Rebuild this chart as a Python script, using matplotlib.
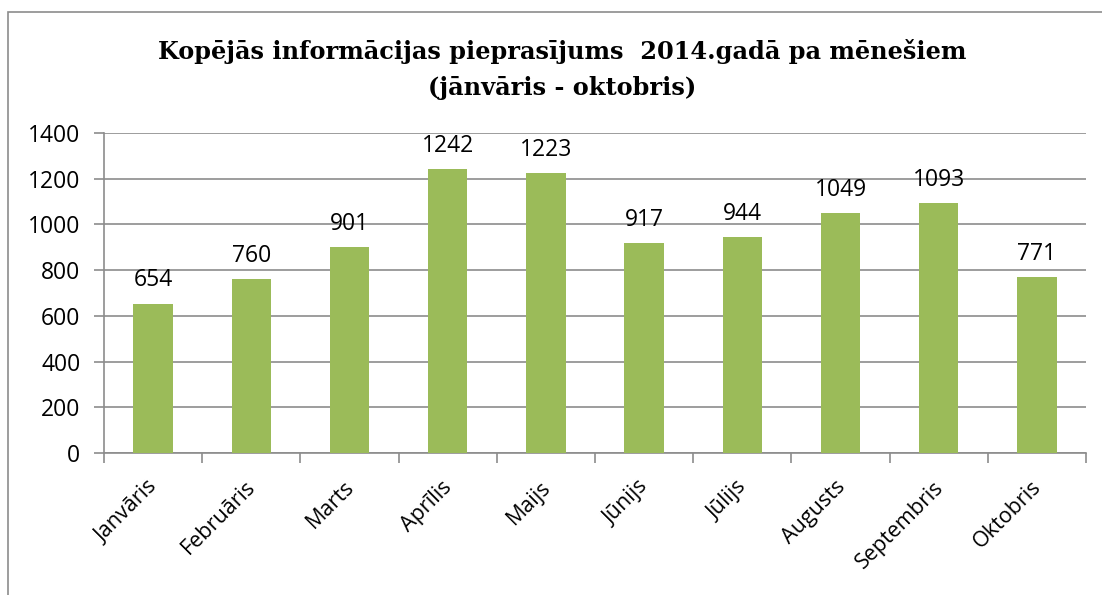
import matplotlib.pyplot as plt
from matplotlib.patches import Rectangle
from matplotlib.transforms import ScaledTranslation

months = ["Janvāris", "Februāris", "Marts", "Aprīlis", "Maijs",
          "Jūnijs", "Jūlijs", "Augusts", "Septembris", "Oktobris"]
requests = [654, 760, 901, 1242, 1223, 917, 944, 1049, 1093, 771]
yticks = [0, 200, 400, 600, 800, 1000, 1200, 1400]

bar_color = "#9BBB59"
grid_color = "#8c8c8c"
label_font = "Open Sans"

fig = plt.figure(figsize=(11.02, 5.95), dpi=100)
ax = fig.add_axes([104 / 1102, 1 - 453 / 595, (1086 - 104) / 1102, 320 / 595])

# outer chart frame (right and bottom are cropped in the original)
fig.patches.append(Rectangle((8 / 1102, -0.1), 1.2, 1 - 12 / 595 + 0.1,
                             transform=fig.transFigure, fill=False,
                             edgecolor="#8c8c8c", linewidth=1.2))

x = list(range(len(months)))
bars = ax.bar(x, requests, width=0.4, color=bar_color, zorder=3)

for xi, v in zip(x, requests):
    ax.annotate(str(v), (xi, v), xytext=(0, 8), textcoords="offset points",
                ha="center", va="bottom", fontsize=16.5, family=label_font)

ax.set_xlim(-0.5, len(months) - 0.5)
ax.set_ylim(0, 1400)
ax.set_yticks(yticks)
ax.set_yticklabels([str(t) for t in yticks], fontsize=16.5, family=label_font)
ax.yaxis.grid(True, color=grid_color, linewidth=1.2, zorder=0)

ax.set_xticks(x)
ax.set_xticklabels(months, rotation=45, ha="right", rotation_mode="anchor",
                   fontsize=15.5, family=label_font)
ax.tick_params(axis="x", length=0, pad=17)
shift = ScaledTranslation(-6 / 100, 0, fig.dpi_scale_trans)
for lbl in ax.get_xticklabels():
    lbl.set_transform(lbl.get_transform() + shift)
ax.set_xticks([i - 0.5 for i in range(len(months) + 1)], minor=True)
ax.tick_params(axis="x", which="minor", length=7, color=grid_color, width=1.2)
ax.tick_params(axis="y", length=7, color=grid_color, width=1.2, pad=10)

for side in ["top", "right"]:
    ax.spines[side].set_visible(False)
for side in ["left", "bottom"]:
    ax.spines[side].set_color(grid_color)
    ax.spines[side].set_linewidth(1.2)

fig.text(562 / 1102, 1 - 52 / 595, "Kopējās informācijas pieprasījums  2014.gadā pa mēnešiem",
         ha="center", va="center", fontsize=17.3, fontweight="bold", family="DejaVu Serif")
fig.text(562 / 1102, 1 - 88 / 595, "(jānvāris - oktobris)",
         ha="center", va="center", fontsize=17.3, fontweight="bold", family="DejaVu Serif")

fig.savefig("out.png", dpi=100)
